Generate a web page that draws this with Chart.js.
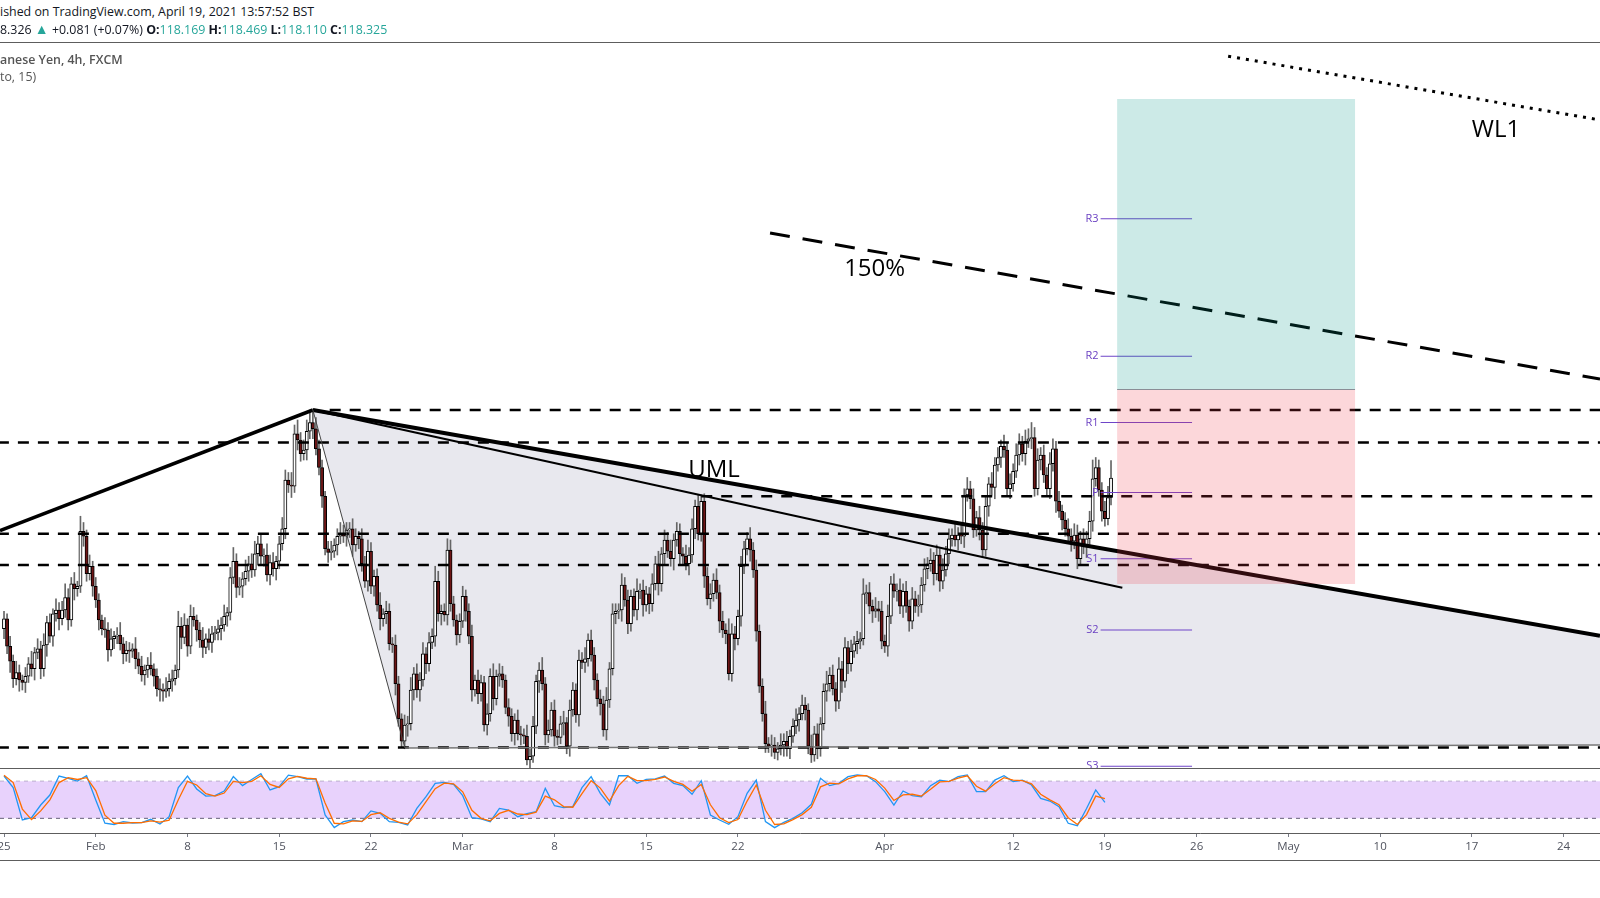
<!DOCTYPE html>
<html><head><meta charset="utf-8">
<script src="https://cdn.jsdelivr.net/npm/chart.js@4.4.1/dist/chart.umd.min.js"></script>
<style>
html,body{margin:0;padding:0;background:#fff;width:1600px;height:898px;overflow:hidden;}
#wrap{position:relative;width:1600px;height:898px;}
.txt{position:absolute;left:0;white-space:nowrap;font-family:"Open Sans",sans-serif;color:#131722;z-index:5;line-height:18px;}
.g{color:#26a69a;}
#main{position:absolute;left:0;top:43px;}
#stoch{position:absolute;left:0;top:768px;}
.hl{position:absolute;left:0;width:1600px;height:1px;background:#5d5d5d;z-index:6;}
</style></head><body>
<div id="wrap">
<div class="txt" style="top:3px;font-size:12.4px">ished on TradingView.com, April 19, 2021 13:57:52 BST</div>
<div class="txt" style="top:20px;font-size:12.4px">8.326 <span class="g" style="font-size:14px">▲</span> +0.081 (+0.07%) <b>O:</b><span class="g">118.169</span> <b>H:</b><span class="g">118.469</span> <b>L:</b><span class="g">118.110</span> <b>C:</b><span class="g">118.325</span></div>
<div class="hl" style="top:42px"></div>
<div class="txt" style="top:51px;font-size:12.4px;color:#555;font-weight:600">anese Yen, 4h, FXCM</div>
<div class="txt" style="top:68px;font-size:12.4px;color:#555">to, 15)</div>
<canvas id="main" width="1600" height="725"></canvas>
<div class="hl" style="top:768px"></div>
<canvas id="stoch" width="1600" height="92"></canvas>
<div class="hl" style="top:860px"></div>
</div>
<script>
// ---- 4h candles, CHF/JPY (FXCM), Jan 25 - Apr 19 2021, bar index 0..362 ----
const firstOpen = 117.12;
const closes = [
117.20,116.98,116.86,116.72,116.77,116.71,116.69,116.74,116.84,116.80,116.93,116.96,116.80,116.99,117.17,117.06,117.24,117.27,117.20,117.27,117.37,117.19,117.48,117.44,117.46,117.90,117.86,117.56,117.62,117.46,
117.35,117.19,117.12,117.11,116.95,117.04,117.06,117.07,117.00,116.92,116.95,116.94,116.96,116.88,116.82,116.75,116.79,116.83,116.80,116.74,116.64,116.63,116.62,116.64,116.70,116.72,116.79,117.14,117.05,117.15,
116.98,117.22,117.19,117.11,117.03,116.97,117.04,117.01,117.08,117.09,117.12,117.15,117.22,117.25,117.53,117.66,117.45,117.46,117.52,117.58,117.64,117.59,117.72,117.80,117.70,117.71,117.55,117.65,117.60,117.66,
117.80,117.92,118.31,118.27,118.26,118.68,118.63,118.52,118.55,118.70,118.77,118.72,118.56,118.41,118.18,117.76,117.73,117.74,117.79,117.86,117.88,117.86,117.91,117.92,117.79,117.86,117.84,117.64,117.50,117.74,
117.46,117.54,117.31,117.20,117.24,117.26,117.00,116.99,116.68,116.40,116.22,116.35,116.36,116.63,116.76,116.63,116.71,116.92,116.84,117.01,117.06,117.50,117.24,117.26,117.23,117.75,117.32,117.19,117.07,117.18,
117.38,117.26,117.06,116.63,116.71,116.60,116.69,116.35,116.44,116.74,116.56,116.74,116.76,116.71,116.49,116.42,116.28,116.39,116.28,116.27,116.26,116.07,116.10,116.34,116.70,116.79,116.68,116.27,116.31,116.47,
116.26,116.25,116.36,116.37,116.18,116.47,116.63,116.43,116.87,116.85,116.88,117.03,116.91,116.71,116.56,116.52,116.31,116.55,116.80,117.24,117.26,117.27,117.47,117.35,117.16,117.38,117.27,117.42,117.43,117.31,
117.40,117.32,117.48,117.64,117.48,117.72,117.83,117.74,117.68,117.83,117.90,117.72,117.70,117.64,117.71,117.92,118.10,117.88,118.14,117.54,117.36,117.40,117.51,117.41,117.18,117.11,117.08,116.76,117.08,117.04,
117.22,117.62,117.76,117.84,117.75,117.59,117.10,116.66,116.44,116.20,116.18,116.19,116.13,116.16,116.19,116.22,116.16,116.26,116.34,116.39,116.44,116.51,116.47,116.18,116.11,116.28,116.16,116.36,116.62,116.68,
116.75,116.64,116.54,116.80,116.70,116.97,116.84,116.94,117.00,117.02,117.04,117.40,117.41,117.30,117.26,117.28,117.26,117.02,116.98,117.22,117.48,117.42,117.43,117.30,117.42,117.30,117.18,117.36,117.30,117.31,
117.47,117.60,117.64,117.67,117.56,117.71,117.50,117.59,117.72,117.84,117.87,117.83,117.87,117.86,118.19,118.24,118.16,117.91,118.01,117.91,117.75,118.10,118.28,118.25,118.43,118.49,118.58,118.55,118.24,118.28,
118.38,118.51,118.60,118.52,118.62,118.64,118.65,118.24,118.47,118.51,118.35,118.24,118.44,118.56,118.14,118.06,117.99,117.92,117.86,117.82,117.87,117.68,117.84,117.78,117.84,117.98,118.32,118.41,118.23,118.06,
118.00,118.17,118.325];
// wick lengths above / below the body, in hundredths of a yen
const upperWick = [
6,4,8,5,9,6,4,7,5,10,4,8,6,9,5,7,4,9,6,7,11,7,5,9,4,12,7,5,9,4,
7,5,4,9,6,8,4,6,10,5,7,6,4,9,5,8,4,6,10,4,6,8,5,9,6,7,4,12,7,9,
5,9,7,4,6,10,4,8,6,5,7,6,9,4,8,11,6,7,5,9,6,8,10,6,7,5,9,6,8,4,
6,9,8,6,10,7,11,6,8,9,10,10,9,7,6,4,6,8,5,6,9,7,6,5,8,6,4,8,6,9,
7,5,6,10,4,8,6,5,8,6,4,8,6,10,5,8,6,9,5,8,6,12,8,5,6,9,8,6,4,6,
8,5,6,9,4,8,6,5,8,6,10,5,8,6,4,7,6,5,8,6,5,9,6,8,5,6,10,5,8,6,
8,5,6,9,4,8,6,5,8,6,9,5,8,6,5,7,6,10,5,8,6,5,9,6,8,5,6,10,5,8,
6,5,8,6,10,5,8,6,9,5,7,6,5,9,6,8,5,9,5,6,7,8,5,9,6,8,5,12,8,6,
5,8,6,5,9,6,8,5,6,10,5,8,6,5,9,6,8,5,6,9,5,8,6,5,9,6,8,5,6,10,
6,8,5,9,6,8,5,9,6,8,5,12,6,8,5,9,6,8,5,9,6,8,5,9,6,8,5,9,6,8,
6,8,5,9,6,8,5,9,6,8,5,9,6,8,5,9,6,8,5,9,6,8,5,9,6,8,5,9,6,8,
6,9,8,6,9,8,12,8,9,6,8,6,9,8,6,8,5,6,8,6,9,8,6,8,6,8,15,8,6,6,
8,9,14];
const lowerWick = [
8,6,9,7,5,9,6,8,5,6,9,5,8,6,9,5,8,6,9,5,6,8,5,9,6,5,8,6,5,8,
6,8,5,6,9,5,8,6,5,8,6,9,5,8,6,5,8,6,5,8,6,9,8,5,6,8,5,6,9,5,
8,6,5,9,6,8,5,6,8,5,6,9,5,8,6,5,8,6,9,5,8,6,5,9,6,8,5,8,6,9,
6,5,8,6,9,5,8,6,5,8,6,8,5,6,9,5,8,6,5,8,6,5,8,6,9,5,8,6,5,8,
6,8,5,9,6,8,5,6,9,6,5,6,9,5,8,6,9,5,8,6,5,8,6,9,5,8,6,5,8,6,
5,8,6,9,5,8,6,5,8,6,9,5,8,6,5,8,6,9,5,8,6,4,8,5,6,9,5,8,6,5,
8,6,5,9,6,8,5,6,9,5,8,6,5,8,6,9,5,8,6,5,8,6,9,5,8,6,5,8,6,9,
5,8,6,5,9,6,8,5,6,9,5,8,6,5,9,6,8,5,6,9,5,8,6,5,9,6,8,5,6,9,
5,8,6,5,9,6,8,5,6,7,5,8,5,6,5,9,6,8,5,6,9,5,8,6,6,5,8,6,5,8,
6,5,8,6,9,5,8,6,5,8,6,5,8,6,9,5,8,6,5,8,6,5,8,6,9,5,8,6,5,8,
6,5,8,6,9,5,8,6,5,8,6,5,8,6,9,5,8,6,5,8,6,5,8,6,9,5,8,6,5,8,
6,5,8,6,9,5,8,6,5,8,6,5,8,6,9,5,8,6,5,8,6,8,5,6,9,5,8,6,5,8,
6,5,6];

// ---- Stoch RSI (every 3rd bar) ----
const stochK = [
88.6,69.7,17.3,21,41.6,57.8,88.6,84.9,80.5,89,
49.7,12,10,14.6,12.4,13,18.4,10.8,22.7,69.7,
88.6,67.6,56,56.8,64.3,87.6,73,83,92.4,66,
71.4,90,87.6,83.8,83.8,25.4,4.9,14.6,17.3,14.6,
32,28,14.6,13.5,9.2,36,55,76.8,78.4,75,
56.8,21,19,14.6,36,33.5,22.7,27.6,30.8,68.6,
40.5,37.3,39,69.7,87.6,60.5,41.6,89,89,76.8,
83,83.8,88.6,76.8,73,59,81,25.4,17.3,10.3,
22.7,60.5,82,14.6,4.9,13.5,20,29,42.7,84.9,
73,76.8,87.6,90.3,89,79.5,63.2,41.6,64.3,56.8,
55,73,82,79.5,87.6,90.3,63.2,63.2,82,89,
79.5,82,74,52.4,48,39,12,8,36,66,
46];
const stochD = [
90,78,35,18,32,50,78,86,83,86,
65,25,12,12,13,13,16,14,17,50,
80,74,60,56,61,80,78,80,89,75,
70,84,88,85,84,45,12,11,16,15,
26,29,20,14,11,26,47,68,77,76,
63,33,20,16,28,33,27,26,30,56,
50,39,38,60,81,69,48,73,88,81,
81,83,87,80,75,64,75,42,21,13,
18,48,74,33,10,11,18,26,38,71,
77,76,84,89,89,83,69,49,58,59,
56,67,79,80,85,89,72,64,76,86,
82,81,76,59,50,42,21,10,26,56,
52];
const stochStep = 3;
const bandLevels = [80, 20];

// ---- time axis ----
const tickBars = [0,30,60,90,120,150,180,210,240,288,330,360,390,420,450,480,510];
const tickLabels = ['25','Feb','8','15','22','Mar','8','15','22','Apr','12','19','26','May','10','17','24'];

// ---- drawings (bar index, price) ----
const levelPrices = [118.87, 118.61, 118.18, 117.88, 117.63, 116.17];
const levelStarts = [106.5, -2, 228, -2, -2, -2];
const riseLine  = [[-1.31,117.905],[101,118.87]];
const umlLine   = [[101,118.87],[521.9,117.064]];
const innerLine = [[101,118.87],[365.7,117.448]];
const forkLeg   = [[101,118.87],[131.1,116.166]];
const forkBase  = [[131.1,116.166],[521.9,116.19]];
const fork150   = [[250.5,120.286],[521.9,119.118]];
const wl1Line   = [[400.3,121.70],[521.9,121.19]];
const longBars  = [364, 441.8];
const longPrices = [121.358, 119.038, 117.478]; // target, entry, stop
const pivotLabels = ['R3','R2','R1','P','S1','S2','S3'];
const pivotValues = [120.40, 119.30, 118.77, 118.21, 117.68, 117.11, 116.02];
const pivotBars = [358.6, 388.5];
const textLabels = ['UML','150%','WL1'];
const textBars = [232.2, 284.7, 487.9];
const textPrices = [118.39, 120.00, 121.11];

// ---- view ranges ----
const X_MIN = -1.31, X_MAX = 521.9;
const Y_MIN = 116.006, Y_MAX = 121.806;
const S_MIN = -3.8, S_MAX = 101.6;

const FONT = '"Open Sans", sans-serif';
const opens = closes.map((c,i)=> i===0 ? firstOpen : closes[i-1]);
const bodies = closes.map((c,i)=>({x:i, y:[opens[i], c]}));
const wicks = closes.map((c,i)=>({x:i, y:[Math.min(opens[i],c)-lowerWick[i]/100, Math.max(opens[i],c)+upperWick[i]/100]}));
const bodyColors = closes.map((c,i)=> c>=opens[i] ? '#ffffff' : '#6e1616');

function seg(pts, color, width, dash, order){
  return {type:'line', data:pts.map(p=>({x:p[0],y:p[1]})), borderColor:color, borderWidth:width,
    borderDash:dash||[], pointRadius:0, fill:false, tension:0, order:order===undefined?0:order, borderCapStyle:'butt'};
}
const lineSets = [];
levelPrices.forEach((p,i)=> lineSets.push(seg([[levelStarts[i],p],[X_MAX+2,p]], '#000', 2.5, [11,9], 1)));
lineSets.push(seg(forkLeg, '#444', 1, [], 0));
lineSets.push(seg(forkBase, '#777', 1.5, [], 0));
lineSets.push(seg(riseLine, '#000', 3.5, [], 0));
lineSets.push(seg(umlLine, '#000', 4, [], 0));
lineSets.push(seg(innerLine, '#000', 2, [], 0));
lineSets.push(seg(fork150, '#000', 3, [20,13], 0));
lineSets.push(seg(wl1Line, '#000', 3, [3,6], 0));
pivotValues.forEach(v=> lineSets.push(seg([[pivotBars[0],v],[pivotBars[1],v]], '#6f45c8', 1, [], 0)));

const annot = {
  id:'annot',
  beforeDatasetsDraw(chart){
    const {ctx, scales:{x,y}} = chart;
    ctx.save();
    ctx.beginPath();
    const poly = [forkLeg[0], forkLeg[1], forkBase[1], umlLine[1]];
    poly.forEach((p,i)=>{ const px=x.getPixelForValue(p[0]), py=y.getPixelForValue(p[1]); if(i) ctx.lineTo(px,py); else ctx.moveTo(px,py); });
    ctx.closePath();
    ctx.fillStyle = '#e8e8ee';
    ctx.fill();
    ctx.restore();
  },
  afterDatasetsDraw(chart){
    const {ctx, scales:{x,y}} = chart;
    ctx.save();
    const x0 = x.getPixelForValue(longBars[0]), x1 = x.getPixelForValue(longBars[1]);
    const yt = y.getPixelForValue(longPrices[0]), ye = y.getPixelForValue(longPrices[1]), ys = y.getPixelForValue(longPrices[2]);
    ctx.fillStyle = 'rgba(0,150,136,0.2)';
    ctx.fillRect(x0, yt, x1-x0, ye-yt);
    ctx.fillStyle = 'rgba(242,54,69,0.2)';
    ctx.fillRect(x0, ye, x1-x0, ys-ye);
    ctx.strokeStyle = '#8a8d96'; ctx.lineWidth = 1;
    ctx.beginPath(); ctx.moveTo(x0, Math.round(ye)+0.5); ctx.lineTo(x1, Math.round(ye)+0.5); ctx.stroke();
    // pivot labels
    ctx.fillStyle = '#6a40c2';
    ctx.font = '11px ' + FONT;
    ctx.textAlign = 'right'; ctx.textBaseline = 'middle';
    pivotLabels.forEach((t,i)=> ctx.fillText(t, x.getPixelForValue(pivotBars[0]) - 2, y.getPixelForValue(pivotValues[i])));
    // text drawings
    ctx.fillStyle = '#000';
    ctx.font = '24px ' + FONT;
    ctx.textAlign = 'center';
    textLabels.forEach((t,i)=> ctx.fillText(t, x.getPixelForValue(textBars[i]), y.getPixelForValue(textPrices[i])));
    ctx.restore();
  }
};

new Chart(document.getElementById('main'), {
  type:'bar',
  data:{ datasets:[
    ...lineSets,
    {type:'bar', data:bodies, backgroundColor:bodyColors, borderColor:'#000', borderWidth:1, borderSkipped:false, barThickness:3.2, grouped:false, order:5},
    {type:'bar', data:wicks, backgroundColor:'#666', borderWidth:0, barThickness:1, grouped:false, order:6}
  ]},
  options:{
    responsive:false, animation:false, events:[],
    layout:{padding:0},
    plugins:{legend:{display:false}, tooltip:{enabled:false}},
    scales:{
      x:{type:'linear', min:X_MIN, max:X_MAX, display:false, offset:false},
      y:{type:'linear', min:Y_MIN, max:Y_MAX, display:false}
    }
  },
  plugins:[annot]
});

new Chart(document.getElementById('stoch'), {
  type:'line',
  data:{ datasets:[
    {data:[{x:X_MIN,y:bandLevels[0]},{x:X_MAX,y:bandLevels[0]}], borderColor:'#66607a', borderWidth:1, borderDash:[4,4], pointRadius:0, fill:false, order:4},
    {data:[{x:X_MIN,y:bandLevels[1]},{x:X_MAX,y:bandLevels[1]}], borderColor:'#66607a', borderWidth:1, borderDash:[4,4], pointRadius:0, fill:0, backgroundColor:'#e8d2fc', order:3},
    {data:stochK.map((v,i)=>({x:i*stochStep, y:v})), borderColor:'#2196f3', borderWidth:1.3, pointRadius:0, tension:0, fill:false, order:2},
    {data:stochD.map((v,i)=>({x:i*stochStep, y:v})), borderColor:'#ff6d00', borderWidth:1.3, pointRadius:0, tension:0, fill:false, order:1}
  ]},
  options:{
    responsive:false, animation:false, events:[],
    layout:{padding:0},
    plugins:{legend:{display:false}, tooltip:{enabled:false}},
    scales:{
      x:{type:'linear', min:X_MIN, max:X_MAX, offset:false,
        afterBuildTicks:(s)=>{ s.ticks = tickBars.map(v=>({value:v})); },
        afterFit:(s)=>{ s.height = 27; s.paddingLeft = 0; s.paddingRight = 0; },
        ticks:{autoSkip:false, maxRotation:0, padding:3, color:'#50535e', font:{size:11.5, family:FONT},
          callback:(v,i)=> tickLabels[i]},
        grid:{display:true, drawOnChartArea:false, drawTicks:true, tickLength:4, color:'#787b86'},
        border:{display:true, color:'#5d5d5d', width:1}
      },
      y:{type:'linear', min:S_MIN, max:S_MAX, display:false}
    }
  }
});
</script>
</body></html>
